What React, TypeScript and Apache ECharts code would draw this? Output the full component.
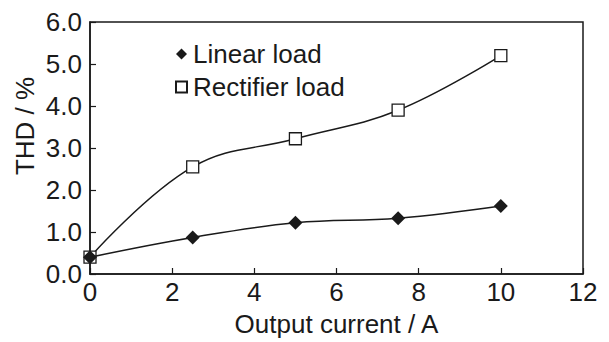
import React, { useEffect, useRef } from "react";
import * as echarts from "echarts";

const currents = [0, 2.5, 5, 7.5, 10];
const linearLoad = [0.4, 0.87, 1.22, 1.33, 1.62];
const rectifierLoad = [0.4, 2.55, 3.22, 3.9, 5.2];
const seriesNames = ["Linear load", "Rectifier load"];
const xTitle = "Output current / A";
const yTitle = "THD / %";

const FONT = "'Liberation Sans', Arial, sans-serif";
const INK = "#1a1a1a";

export default function App() {
  const ref = useRef<HTMLDivElement>(null);
  useEffect(() => {
    if (!ref.current) return;
    const chart = echarts.init(ref.current, undefined, { renderer: "svg" });
    const pair = (ys: number[]) => currents.map((x, i) => [x, ys[i]]);
    chart.setOption({
      animation: false,
      backgroundColor: "#fff",
      textStyle: { fontFamily: FONT },
      grid: {
        left: 90,
        right: 26,
        top: 22,
        bottom: 63,
        show: true,
        borderColor: INK,
        borderWidth: 1.5,
      },
      legend: {
        data: [
          { name: seriesNames[0], icon: "diamond" },
          { name: seriesNames[1], icon: "rect" },
        ],
        orient: "vertical",
        left: 170,
        top: 36,
        itemWidth: 11,
        itemHeight: 11,
        itemGap: 7,
        textStyle: { fontFamily: FONT, fontSize: 26, color: INK, lineHeight: 25, padding: [0, 0, 0, 1] },
      },
      xAxis: {
        type: "value",
        min: 0,
        max: 12,
        interval: 2,
        name: xTitle,
        nameLocation: "middle",
        nameGap: 37,
        nameTextStyle: { fontFamily: FONT, fontSize: 26, color: INK },
        axisLine: { lineStyle: { color: INK, width: 1.5 } },
        axisTick: { inside: true, length: 6, lineStyle: { color: INK, width: 1.2 } },
        axisLabel: { fontFamily: FONT, fontSize: 26, color: INK, margin: 5 },
        splitLine: { show: false },
      },
      yAxis: {
        type: "value",
        min: 0,
        max: 6,
        interval: 1,
        axisLine: { show: true, lineStyle: { color: INK, width: 1.5 } },
        axisTick: { show: true, inside: true, length: 6, lineStyle: { color: INK, width: 1.2 } },
        axisLabel: {
          fontFamily: FONT,
          fontSize: 26,
          color: INK,
          margin: 8,
          formatter: (v: number) => v.toFixed(1),
        },
        splitLine: { show: false },
      },
      graphic: [
        {
          type: "text",
          x: 25,
          y: 126,
          rotation: Math.PI / 2,
          style: {
            text: yTitle,
            font: `26px ${FONT}`,
            fill: INK,
            align: "center",
            verticalAlign: "middle",
          },
        },
      ],
      series: [
        {
          name: seriesNames[1],
          type: "line",
          data: pair(rectifierLoad),
          smooth: 0.4,
          symbol: "rect",
          symbolSize: 12,
          lineStyle: { color: INK, width: 1.5 },
          itemStyle: { color: "#fff", borderColor: INK, borderWidth: 1.3 },
          z: 2,
        },
        {
          name: seriesNames[0],
          type: "line",
          data: pair(linearLoad),
          smooth: 0.4,
          symbol: "diamond",
          symbolSize: 14,
          lineStyle: { color: INK, width: 1.5 },
          itemStyle: { color: INK, borderColor: INK, borderWidth: 0 },
          z: 3,
        },
      ],
    });
    return () => chart.dispose();
  }, []);
  return (
    <div
      ref={ref}
      style={{ position: "fixed", left: 0, top: 0, width: 609, height: 342, background: "#fff" }}
    />
  );
}
